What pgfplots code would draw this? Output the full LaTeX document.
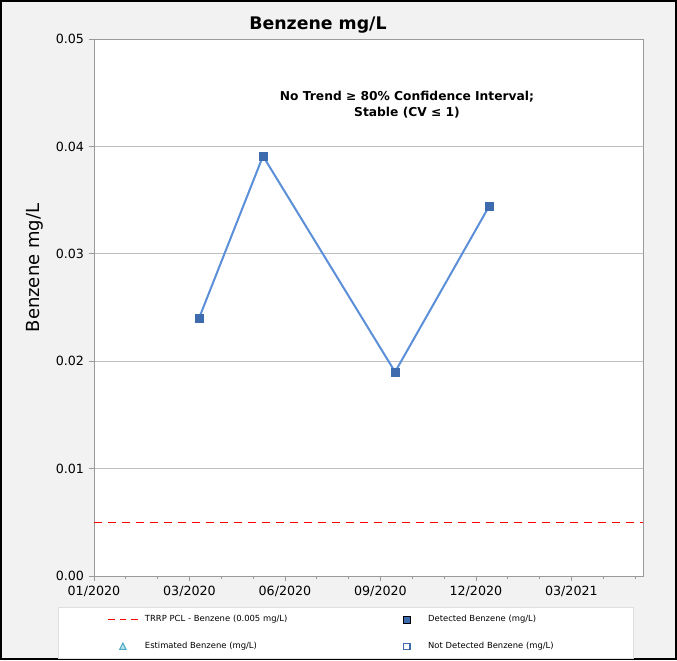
\documentclass[border=0pt]{standalone}
\usepackage{pgfplots}
\pgfplotsset{compat=1.18}
\usepackage{pgfplotstable}
\usepackage{fontspec}
\setmainfont{DejaVu Sans}
\definecolor{bg}{HTML}{F2F2F2}
\definecolor{lineblue}{HTML}{5B8FD8}
\definecolor{markblue}{HTML}{3E6BAE}
\definecolor{estblue}{HTML}{4BACC6}
\definecolor{axgray}{HTML}{9A9A9A}
\definecolor{gridgray}{HTML}{BFBFBF}
\definecolor{pclred}{HTML}{FF0000}
\pgfplotsset{
  dashleg/.style={legend image code/.code={\path (0pt,0pt) (25pt,0pt); \draw[draw=pclred, line width=1.4pt, dash pattern=on 5pt off 3.5pt] (0pt,0pt) -- (22pt,0pt);}},
  detleg/.style={legend image code/.code={\path (0pt,0pt) (25pt,0pt); \fill[fill=markblue] (8.5pt,-2.5pt) rectangle (13.5pt,2.5pt);}},
  estleg/.style={legend image code/.code={\path (0pt,0pt) (25pt,0pt); \draw[draw=estblue, fill=estblue!35, line width=0.8pt] (8.6pt,-2.2pt) -- (13.4pt,-2.2pt) -- (11pt,2.6pt) -- cycle;}},
  ndleg/.style={legend image code/.code={\path (0pt,0pt) (25pt,0pt); \draw[draw=markblue, fill=white, line width=1.1pt] (8.6pt,-2.4pt) rectangle (13.4pt,2.4pt);}},
}
\pgfplotstableread{
x y
3.30 0.0240
5.31 0.0391
9.46 0.0190
12.41 0.0344
}\detected
\begin{document}
\begin{tikzpicture}[x=0.75pt,y=0.75pt]
\fill[bg] (0,0) rectangle (677,660);
\draw[black,line width=1.5pt] (1,1) rectangle (676,659);
\node[font=\bfseries\fontsize{13}{15}\selectfont] at (318,635) {Benzene mg/L};
\node[rotate=90,font=\fontsize{13.5}{15}\selectfont] at (35,392) {Benzene mg/L};
\begin{axis}[
  at={(70.5pt,63pt)}, anchor=south west,
  scale only axis, width=411.75pt, height=402.75pt,
  xmin=0, xmax=17.25, ymin=0, ymax=0.05,
  axis background/.style={fill=white},
  xtick={0,3,6,9,12,15},
  xticklabels={01/2020,03/2020,06/2020,09/2020,12/2020,03/2021},
  minor xtick={1,2,4,5,7,8,10,11,13,14,16,17},
  ytick={0,0.01,0.02,0.03,0.04,0.05},
  scaled y ticks=false,
  yticklabel style={/pgf/number format/.cd,fixed,fixed zerofill,precision=2},
  /pgf/number format/assume math mode=true,
  ticklabel style={font=\fontsize{9.5}{11}\selectfont},
  ymajorgrids, grid style={gridgray, line width=0.6pt},
  axis line style={axgray, line width=0.6pt},
  tick style={axgray, line width=0.6pt},
  tick align=outside, xtick pos=bottom, ytick pos=left,
  major tick length=4pt, minor tick length=2.5pt,
  legend columns=2,
  legend cell align=left,
  legend style={at={(-0.0656,-0.0577)}, anchor=north west,
    draw=gray!25, fill=white, font=\fontsize{6.3}{7.5}\selectfont,
    inner xsep=36.75pt, inner ysep=4pt, row sep=10pt,
    /tikz/column 2/.style={nodes={text width=183pt}},
    /tikz/column 4/.style={nodes={text width=115pt}}},
  clip=false,
]
\addplot[pclred, line width=1.2pt, dash pattern=on 6pt off 4.5pt, dashleg]
  coordinates {(0,0.005) (17.25,0.005)};
\addlegendentry{TRRP PCL - Benzene (0.005 mg/L)}
\addplot[lineblue, line width=1.5pt, forget plot] table[x=x,y=y] {\detected};
\addplot[only marks, mark=square*, mark size=3pt, mark options={markblue, fill=markblue}, detleg] table[x=x,y=y] {\detected};
\addlegendentry{Detected Benzene (mg/L)}
\addlegendimage{estleg}
\addlegendentry{Estimated Benzene (mg/L)}
\addlegendimage{ndleg}
\addlegendentry{Not Detected Benzene (mg/L)}
\end{axis}
\node[font=\bfseries\fontsize{9.2}{12}\selectfont, align=center] at (407,555) {No Trend ≥ 80\% Confidence Interval;\\Stable (CV ≤ 1)};
\end{tikzpicture}
\end{document}
